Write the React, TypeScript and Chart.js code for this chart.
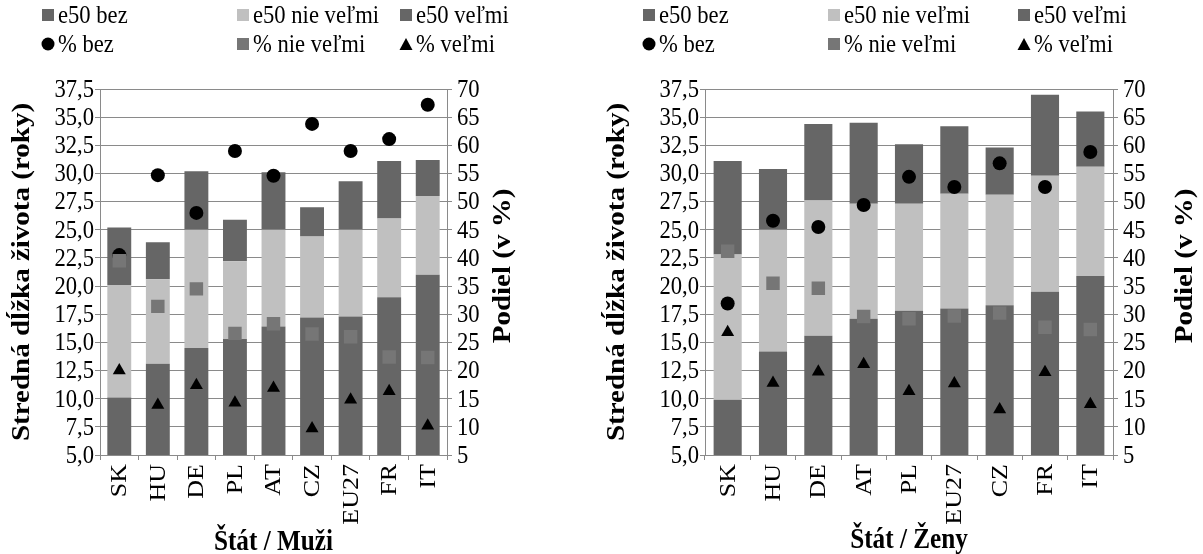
import React, { useEffect, useRef } from 'react';
import { Chart, registerables } from 'chart.js';

Chart.register(...registerables);

const FONT = '"Liberation Serif", "Times New Roman", serif';

// ---- Data: Muži ----
const menCategories = ['SK', 'HU', 'DE', 'PL', 'AT', 'CZ', 'EU27', 'FR', 'IT'];
const menE50Bez = [10.1, 13.1, 14.5, 15.3, 16.4, 17.2, 17.3, 19.0, 21.0];
const menE50NieVelmi = [10.0, 7.5, 10.5, 6.9, 8.6, 7.2, 7.7, 7.0, 7.0];
const menE50Velmi = [5.1, 3.3, 5.2, 3.7, 5.1, 2.6, 4.3, 5.1, 3.2];
const menPctBez = [40.5, 54.7, 48.0, 59.0, 54.6, 63.8, 59.0, 61.1, 67.2];
const menPctNieVelmi = [39.5, 31.4, 34.5, 26.6, 28.3, 26.5, 26.0, 22.4, 22.3];
const menPctVelmi = [20.0, 13.9, 17.4, 14.3, 16.9, 9.7, 14.8, 16.3, 10.2];

// ---- Data: Ženy ----
const womenCategories = ['SK', 'HU', 'DE', 'AT', 'PL', 'EU27', 'CZ', 'FR', 'IT'];
const womenE50Bez = [9.9, 14.2, 15.6, 17.1, 17.8, 18.0, 18.3, 19.5, 20.9];
const womenE50NieVelmi = [12.9, 10.8, 12.0, 10.2, 9.5, 10.2, 9.8, 10.3, 9.7];
const womenE50Velmi = [8.3, 5.4, 6.8, 7.2, 5.3, 6.0, 4.2, 7.2, 4.9];
const womenPctBez = [31.9, 46.6, 45.5, 49.4, 54.4, 52.6, 56.8, 52.6, 58.8];
const womenPctNieVelmi = [41.2, 35.5, 34.6, 29.6, 29.2, 29.7, 30.2, 27.7, 27.3];
const womenPctVelmi = [26.8, 17.8, 19.8, 21.1, 16.3, 17.7, 13.1, 19.7, 14.0];

// ---- Axes ----
const leftAxisTicks = [5, 7.5, 10, 12.5, 15, 17.5, 20, 22.5, 25, 27.5, 30, 32.5, 35, 37.5];
const rightAxisTicks = [5, 10, 15, 20, 25, 30, 35, 40, 45, 50, 55, 60, 65, 70];

const seriesLabels = ['e50 bez', 'e50 nie veľmi', 'e50 veľmi', '% bez', '% nie veľmi', '% veľmi'];
const leftAxisTitle = 'Stredná dĺžka života (roky)';
const rightAxisTitle = 'Podiel (v %)';

const DARK = '#666666';
const LIGHT = '#c0c0c0';
const MARK = '#767676';
const GRID = '#8a8a8a';
const SQ = 0.87; // horizontal squeeze of the text
const TICK_LEN = 5;

function drawH(ctx: CanvasRenderingContext2D, text: string, x: number, y: number, align: CanvasTextAlign) {
  ctx.save();
  ctx.translate(x, y);
  ctx.scale(SQ, 1);
  ctx.textAlign = align;
  ctx.fillText(text, 0, 0);
  ctx.restore();
}

function drawV(ctx: CanvasRenderingContext2D, text: string, x: number, y: number, align: CanvasTextAlign) {
  ctx.save();
  ctx.translate(x, y);
  ctx.rotate(-Math.PI / 2);
  ctx.scale(1, SQ);
  ctx.textAlign = align;
  ctx.fillText(text, 0, 0);
  ctx.restore();
}

const overlayPlugin = {
  id: 'overlay',
  afterDraw(chart: any, _args: any, opts: any) {
    const { ctx, chartArea: ca } = chart;
    ctx.save();
    ctx.textBaseline = 'middle';
    // legend
    ctx.font = `26px ${FONT}`;
    const cols = opts.legendCols;
    const rows = opts.legendRows;
    chart.data.datasets.forEach((ds: any, i: number) => {
      const x = cols[i % 3];
      const y = rows[Math.floor(i / 3)];
      const s = 12;
      const shape = ds.type === 'bar' ? 'box' : ds.pointStyle;
      ctx.fillStyle = ds.type === 'bar' ? ds.backgroundColor : ds.pointBackgroundColor;
      if (shape === 'box' || shape === 'rect') {
        ctx.fillRect(x, y - s / 2, s, s);
      } else if (shape === 'circle') {
        ctx.beginPath();
        ctx.arc(x + s / 2, y, s / 2 + 0.5, 0, Math.PI * 2);
        ctx.fill();
      } else if (shape === 'triangle') {
        ctx.beginPath();
        ctx.moveTo(x + s / 2, y - s / 2);
        ctx.lineTo(x + s + 0.5, y + s / 2);
        ctx.lineTo(x - 0.5, y + s / 2);
        ctx.closePath();
        ctx.fill();
      }
      ctx.fillStyle = '#000';
      drawH(ctx, ds.label, x + s + 4, y + 1, 'left');
    });
    // tick labels
    const ys = chart.scales.y;
    const y1s = chart.scales.y1;
    const xs = chart.scales.x;
    ctx.fillStyle = '#000';
    ys.ticks.forEach((t: any) => {
      drawH(ctx, Number(t.value).toFixed(1).replace('.', ','), ca.left - TICK_LEN - 1, ys.getPixelForValue(t.value) + 1, 'right');
    });
    y1s.ticks.forEach((t: any) => {
      drawH(ctx, String(t.value), ca.right + TICK_LEN + 5, y1s.getPixelForValue(t.value) + 1, 'left');
    });
    chart.data.labels.forEach((lab: string, i: number) => {
      drawV(ctx, lab, xs.getPixelForValue(i) + 1, ca.bottom + TICK_LEN + 4, 'right');
    });
    // axis titles
    ctx.font = `bold 29px ${FONT}`;
    const midY = (ca.top + ca.bottom) / 2;
    drawV(ctx, leftAxisTitle, opts.yTitleX, midY, 'center');
    drawV(ctx, rightAxisTitle, opts.y1TitleX, midY - 6, 'center');
    drawH(ctx, opts.xTitle, (ca.left + ca.right) / 2, opts.xTitleY, 'center');
    ctx.restore();
  },
};

type PanelProps = {
  categories: string[];
  bez: number[];
  nie: number[];
  velmi: number[];
  pBez: number[];
  pNie: number[];
  pVelmi: number[];
  xTitle: string;
  left: number;
  width: number;
  yWidth: number;
  y1Width: number;
  legendCols: number[];
  yTitleX: number;
  y1TitleX: number;
  xTitleY: number;
};

function ChartPanel(p: PanelProps) {
  const ref = useRef<HTMLCanvasElement | null>(null);
  useEffect(() => {
    if (!ref.current) return;
    const hidden = { color: 'rgba(0,0,0,0)', autoSkip: false, font: { family: FONT, size: 12 } };
    const barCommon = { type: 'bar' as const, yAxisID: 'y', stack: 'e50', barPercentage: 0.62, categoryPercentage: 1, borderWidth: 0 };
    const ptCommon = { type: 'line' as const, yAxisID: 'y1', showLine: false, pointBorderWidth: 0, pointHoverRadius: 0 };
    const chart = new Chart(ref.current, {
      type: 'bar',
      data: {
        labels: p.categories,
        datasets: [
          { ...barCommon, label: seriesLabels[0], data: p.bez, backgroundColor: DARK, order: 10 },
          { ...barCommon, label: seriesLabels[1], data: p.nie, backgroundColor: LIGHT, order: 10 },
          { ...barCommon, label: seriesLabels[2], data: p.velmi, backgroundColor: DARK, order: 10 },
          { ...ptCommon, label: seriesLabels[3], data: p.pBez, pointStyle: 'circle', pointRadius: 7, pointBackgroundColor: '#000', backgroundColor: '#000', borderColor: '#000', order: 3 },
          { ...ptCommon, label: seriesLabels[4], data: p.pNie, pointStyle: 'rect', pointRadius: 9.5, pointBackgroundColor: MARK, backgroundColor: MARK, borderColor: MARK, order: 2 },
          { ...ptCommon, label: seriesLabels[5], data: p.pVelmi, pointStyle: 'triangle', pointRadius: 7.5, pointBackgroundColor: '#000', backgroundColor: '#000', borderColor: '#000', order: 1 },
        ] as any,
      },
      options: {
        responsive: false,
        animation: false,
        events: [],
        layout: { padding: { top: 89, bottom: 0, left: 0, right: 0 } },
        plugins: {
          legend: { display: false },
          tooltip: { enabled: false },
          overlay: {
            legendCols: p.legendCols,
            legendRows: [15, 44],
            yTitleX: p.yTitleX,
            y1TitleX: p.y1TitleX,
            xTitle: p.xTitle,
            xTitleY: p.xTitleY,
          },
        } as any,
        scales: {
          x: {
            stacked: true,
            offset: true,
            grid: { drawOnChartArea: false, drawTicks: true, tickLength: TICK_LEN, color: GRID, offset: true },
            border: { color: GRID },
            ticks: { ...hidden, minRotation: 90, maxRotation: 90 },
            afterFit: (s: any) => { s.height = 554 - 455; },
          },
          y: {
            stacked: true,
            min: leftAxisTicks[0],
            max: leftAxisTicks[leftAxisTicks.length - 1],
            afterBuildTicks: (s: any) => { s.ticks = leftAxisTicks.map((v) => ({ value: v })); },
            ticks: hidden,
            grid: { color: GRID, tickLength: TICK_LEN },
            border: { color: GRID },
            afterFit: (s: any) => { s.width = p.yWidth; },
          },
          y1: {
            position: 'right',
            stacked: false,
            min: rightAxisTicks[0],
            max: rightAxisTicks[rightAxisTicks.length - 1],
            afterBuildTicks: (s: any) => { s.ticks = rightAxisTicks.map((v) => ({ value: v })); },
            ticks: hidden,
            grid: { drawOnChartArea: false, color: GRID, tickLength: TICK_LEN },
            border: { color: GRID },
            afterFit: (s: any) => { s.width = p.y1Width; },
          },
        } as any,
      },
      plugins: [overlayPlugin],
    });
    return () => chart.destroy();
  }, []);
  return (
    <canvas
      ref={ref}
      width={p.width}
      height={554}
      style={{ position: 'absolute', left: p.left, top: 0, width: p.width, height: 554 }}
    />
  );
}

export default function App() {
  return (
    <div style={{ position: 'absolute', left: 0, top: 0, width: 1203, height: 554, background: '#fff', overflow: 'hidden' }}>
      <ChartPanel
        categories={menCategories}
        bez={menE50Bez}
        nie={menE50NieVelmi}
        velmi={menE50Velmi}
        pBez={menPctBez}
        pNie={menPctNieVelmi}
        pVelmi={menPctVelmi}
        xTitle="Štát / Muži"
        left={0}
        width={540}
        yWidth={100}
        y1Width={93}
        legendCols={[42, 237, 400]}
        yTitleX={22}
        y1TitleX={503}
        xTitleY={543}
      />
      <ChartPanel
        categories={womenCategories}
        bez={womenE50Bez}
        nie={womenE50NieVelmi}
        velmi={womenE50Velmi}
        pBez={womenPctBez}
        pNie={womenPctNieVelmi}
        pVelmi={womenPctVelmi}
        xTitle="Štát / Ženy"
        left={600}
        width={603}
        yWidth={105}
        y1Width={90}
        legendCols={[43, 228, 418]}
        yTitleX={17}
        y1TitleX={585}
        xTitleY={541}
      />
    </div>
  );
}
